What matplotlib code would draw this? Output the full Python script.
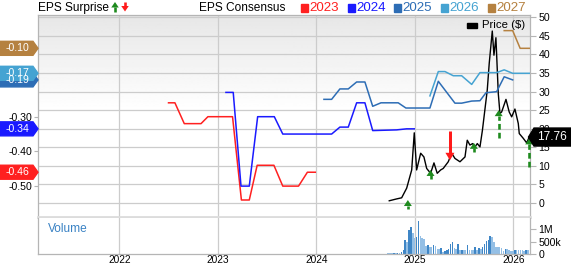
import numpy as np
import matplotlib.pyplot as plt
from matplotlib.patches import Polygon, Rectangle
from matplotlib.lines import Line2D

plt.rcParams['font.family'] = ['Liberation Sans', 'DejaVu Sans']

W, H = 571, 264

# ---- EPS consensus by fiscal year (x = decimal year) ----
eps23_t = [2022.50, 2022.565, 2022.66, 2022.83, 2022.90, 2023.15, 2023.24, 2023.32,
           2023.40, 2023.57, 2023.66, 2023.82, 2023.91, 2023.99]
eps23_v = [-0.26, -0.26, -0.32, -0.32, -0.30, -0.30, -0.54, -0.54,
           -0.44, -0.44, -0.50, -0.50, -0.46, -0.46]
eps24_t = [2023.083, 2023.157, 2023.236, 2023.32, 2023.405, 2023.574, 2023.66, 2024.156,
           2024.24, 2024.325, 2024.41, 2024.494, 2024.573, 2024.816, 2024.917, 2024.995]
eps24_v = [-0.23, -0.23, -0.50, -0.50, -0.30, -0.30, -0.35, -0.35,
           -0.33, -0.33, -0.26, -0.26, -0.34, -0.338, -0.335, -0.335]
eps25_t = [2024.078, 2024.156, 2024.24, 2024.325, 2024.41, 2024.494, 2024.573, 2024.657,
           2024.832, 2024.91, 2025.154, 2025.239, 2025.408, 2025.476, 2025.578, 2025.662,
           2025.723, 2025.831, 2025.908, 2025.994]
eps25_v = [-0.25, -0.25, -0.22, -0.22, -0.20, -0.20, -0.27, -0.26,
           -0.26, -0.275, -0.275, -0.198, -0.261, -0.261, -0.255, -0.254,
           -0.231, -0.228, -0.185, -0.194]
eps26_t = [2025.154, 2025.239, 2025.307, 2025.391, 2025.476, 2025.578, 2025.662,
           2025.831, 2025.908, 2025.994, 2026.163]
eps26_v = [-0.24, -0.17, -0.17, -0.182, -0.182, -0.207, -0.173,
           -0.173, -0.165, -0.175, -0.175]
eps27_t = [2025.908, 2025.994, 2026.07, 2026.163]
eps27_v = [-0.052, -0.052, -0.103, -0.103]

years = ['2023', '2024', '2025', '2026', '2027']
year_colors = ['#ff2020', '#1a1aff', '#2d6db5', '#45a3d2', '#b58140']

# flags on the left: (label, position, colour index), drawn in this order
flag_labels = ['-0.10', '-0.19', '-0.17', '-0.34', '-0.46']
flag_values = [-0.103, -0.194, -0.175, -0.335, -0.46]
flag_color_idx = [4, 2, 3, 1, 0]

# ---- price ----
price_t = [2024.741, 2024.816, 2024.867, 2024.918, 2024.969, 2024.995, 2025.019, 2025.06,
           2025.093, 2025.121, 2025.161, 2025.195, 2025.228, 2025.263, 2025.289, 2025.34,
           2025.375, 2025.408, 2025.459, 2025.51, 2025.533, 2025.56, 2025.588, 2025.611,
           2025.635, 2025.662, 2025.687, 2025.736, 2025.756, 2025.787, 2025.804, 2025.824,
           2025.848, 2025.865, 2025.882, 2025.926, 2025.959, 2025.984, 2026.017, 2026.051,
           2026.061, 2026.102, 2026.136, 2026.162]
price_v = [0.6, 1.1, 1.4, 4.0, 8.9, 18.9, 8.9, 13.4,
           12.4, 9.3, 8.0, 10.8, 8.0, 8.9, 9.3, 11.1,
           13.4, 12.0, 11.1, 12.4, 16.9, 15.6, 16.0, 15.1,
           16.0, 15.1, 19.6, 30.4, 37.6, 46.3, 39.8, 44.5,
           29.5, 24.1, 24.5, 27.9, 24.5, 23.2, 25.3, 21.4,
           18.7, 17.4, 16.2, 17.76]
last_price = '17.76'

# EPS surprise arrows: date, tip and tail (price units)
surp_t = [2024.93, 2025.16, 2025.357, 2025.60, 2025.852, 2026.162]
surp_tip = [0.8, 8.9, 11.5, 16.2, 25.0, 17.4]
surp_tail = [-1.6, 6.5, 19.4, 13.8, 17.4, 9.6]
surp_pos = [True, True, False, True, True, True]
surp_dashed = [False, False, False, False, True, True]

# ---- weekly volume (thousands) ----
vol_start = 2024.731
vol_k = [27, 27, 27, 41, 41, 54, 54, 95, 162, 568, 486, 973, 1108, 838, 649, 703,
         1324, 730, 649, 595, 338, 351, 297, 270, 365, 324, 189, 189, 230, 81,
         135, 176, 216, 405, 486, 243, 189, 419, 162, 176, 176, 176, 378, 162,
         162, 162, 270, 162, 230, 189, 270, 405, 541, 568, 730, 703, 486, 297,
         270, 270, 230, 135, 216, 189, 162, 135, 135, 162, 162, 162, 162, 162,
         135, 162, 162]
vol_t = vol_start + np.arange(len(vol_k)) * 7 / 365.25

xticks = [2022, 2023, 2024, 2025, 2026]
xlim = (2021.178, 2026.17)
grid_c = '#cccccc'
spine_c = '#b5b5b5'
up_c = '#1e8a1e'
down_c = '#ff1a1a'


def fx(x):
    return x / W


def fy(y):
    return 1 - y / H


def arrow_px(x, y_tip, y_tail, color, dashed=False, shaft_w=2.0, head_w=7.0, head_h=5.0):
    # arrow in image pixels (y grows downwards)
    d = 1 if y_tail > y_tip else -1
    base = y_tip + d * head_h
    fig.add_artist(Line2D([fx(x), fx(x)], [fy(y_tail), fy(base - d * 0.5)],
                          transform=fig.transFigure, color=color, lw=shaft_w * 0.72,
                          linestyle=(0, (2.2, 1.2)) if dashed else '-',
                          solid_capstyle='butt', dash_capstyle='butt', zorder=4))
    fig.patches.append(Polygon([(fx(x), fy(y_tip)), (fx(x - head_w / 2), fy(base)),
                                (fx(x + head_w / 2), fy(base))], closed=True,
                               transform=fig.transFigure, color=color, lw=0, zorder=4))


fig = plt.figure(figsize=(W / 100, H / 100), dpi=100)
main_rect = [fx(38.3), fy(217), fx(530) - fx(38.3), fy(15) - fy(217)]
vol_rect = [fx(38.3), fy(254), fx(530) - fx(38.3), fy(218) - fy(254)]

# gradient background
bg = fig.add_axes(main_rect, zorder=0)
g = np.linspace(0, 1, 200)
shade = np.clip(0.905 + g * 0.2, 0, 1.0).reshape(-1, 1)
bg.imshow(shade, cmap='gray', vmin=0, vmax=1, aspect='auto', extent=[0, 1, 0, 1])
bg.axis('off')

# price axes (right) with grid
ax_p = fig.add_axes(main_rect, zorder=1)
ax_p.patch.set_visible(False)
ax_p.set_xlim(*xlim)
ax_p.set_ylim(-3.77, 50.62)
ax_p.set_xticks(xticks)
ax_p.set_xticklabels([])
ax_p.set_yticks(range(0, 51, 5))
ax_p.yaxis.tick_right()
ax_p.grid(True, color=grid_c, lw=0.9)
ax_p.tick_params(axis='x', length=0)
ax_p.tick_params(axis='y', length=4, width=0.8, color=spine_c, pad=2, labelsize=7.6)
for s in ['left', 'top', 'right']:
    ax_p.spines[s].set_color(spine_c)
    ax_p.spines[s].set_linewidth(0.9)
ax_p.spines['bottom'].set_color('#dcdcdc')
ax_p.spines['bottom'].set_linewidth(2)

ax_p.plot(price_t, price_v, color='black', lw=1.0, zorder=3)

# EPS axes (left)
ax_e = fig.add_axes(main_rect, zorder=2)
ax_e.patch.set_visible(False)
ax_e.set_xlim(*xlim)
ax_e.set_ylim(-0.589, -0.007)
ax_e.set_xticks([])
ax_e.set_yticks([-0.30, -0.40, -0.50])
ax_e.set_yticklabels(['-0.30', '-0.40', '-0.50'])
ax_e.tick_params(axis='y', length=3, width=0.8, color=spine_c, pad=1, labelsize=7.6)
for s in ax_e.spines.values():
    s.set_visible(False)

series = [(eps23_t, eps23_v), (eps24_t, eps24_v), (eps25_t, eps25_v),
          (eps26_t, eps26_v), (eps27_t, eps27_v)]
for (t, v), c in zip(series, year_colors):
    ax_e.plot(t, v, color=c, lw=1.1)

# volume axes
ax_v = fig.add_axes(vol_rect, zorder=1)
ax_v.set_xlim(*xlim)
ax_v.set_ylim(0, 1457)
bar_cols = ['#3f86c6' if i > 0 and vol_k[i] > vol_k[i - 1] else '#94bfe5'
            for i in range(len(vol_k))]
ax_v.bar(vol_t, vol_k, width=0.0155, color=bar_cols, zorder=2)
ax_v.set_xticks(xticks)
ax_v.set_xticklabels([str(x) for x in xticks])
ax_v.grid(axis='x', color=grid_c, lw=0.9, zorder=0)
ax_v.set_axisbelow(True)
ax_v.set_yticks([0, 500, 1000])
ax_v.set_yticklabels(['0', '500k', '1M'])
ax_v.yaxis.tick_right()
ax_v.tick_params(axis='x', length=0, pad=0.5, labelsize=7.3)
ax_v.tick_params(axis='y', length=4, width=0.8, color=spine_c, pad=2, labelsize=7.6)
ax_v.spines['top'].set_visible(False)
for s in ['left', 'bottom', 'right']:
    ax_v.spines[s].set_color(spine_c)
    ax_v.spines[s].set_linewidth(0.9)
ax_v.text(0.02, 0.7, 'Volume', transform=ax_v.transAxes, color='#3a82c4',
          fontsize=8.6, va='center')

# ---- EPS surprise arrows (positioned from price data) ----
for t, tip, tail, pos, dash in zip(surp_t, surp_tip, surp_tail, surp_pos, surp_dashed):
    y_tip = H - ax_p.transData.transform((t, tip))[1]
    y_tail = H - ax_p.transData.transform((t, tail))[1]
    x_px = ax_p.transData.transform((t, tip))[0]
    if pos:
        arrow_px(x_px, y_tip, y_tail, up_c, dashed=dash, shaft_w=2.6, head_w=8, head_h=6)
    else:
        arrow_px(x_px, y_tip, y_tail, down_c, shaft_w=3.0, head_w=9, head_h=7.5)

# ---- header ----
fig.text(fx(38), fy(8), 'EPS Surprise', fontsize=8.6, va='center')
arrow_px(115, 2, 11.5, up_c, shaft_w=2.6, head_w=7.5, head_h=5.5)
arrow_px(125, 11.5, 2, down_c, shaft_w=2.6, head_w=7.5, head_h=5.5)
fig.text(fx(199), fy(8), 'EPS Consensus', fontsize=8.6, va='center')
leg_x = [300.7, 347.7, 394.0, 441.0, 487.7]
for x, yr, c in zip(leg_x, years, year_colors):
    fig.patches.append(Rectangle((fx(x), fy(11.5)), fx(7), fy(4) - fy(11.5),
                                 transform=fig.transFigure, color=c))
    fig.text(fx(x + 8.3), fy(7.8), yr, fontsize=9.6, color=c, va='center')

# price legend
fig.patches.append(Rectangle((fx(467), fy(27.5)), fx(10), fy(22.5) - fy(27.5),
                             transform=fig.transFigure, color='black', zorder=5))
fig.text(fx(481.5), fy(25.5), 'Price ($)', fontsize=8.2, va='center', zorder=5)

# ---- flags ----
for lab, v, ci in zip(flag_labels, flag_values, flag_color_idx):
    yc = H - ax_e.transData.transform((xlim[0], v))[1]
    pts = [(0, yc - 7), (33, yc - 7), (38, yc), (33, yc + 7), (0, yc + 7)]
    fig.patches.append(Polygon([(fx(a), fy(b)) for a, b in pts], closed=True,
                               transform=fig.transFigure, color=year_colors[ci], zorder=5))
    fig.text(fx(17), fy(yc), lab, color='white', fontsize=7.6, ha='center', va='center',
             zorder=6)

yp = H - ax_p.transData.transform((xlim[1], float(last_price)))[1]
pts = [(528.5, yp), (534, yp - 9), (571, yp - 9), (571, yp + 9), (534, yp + 9)]
fig.patches.append(Polygon([(fx(a), fy(b)) for a, b in pts], closed=True,
                           transform=fig.transFigure, color='black', zorder=5))
fig.text(fx(552), fy(yp), last_price, color='white', fontsize=8.6, ha='center', va='center',
         zorder=6)

fig.savefig('out.png', dpi=100)
